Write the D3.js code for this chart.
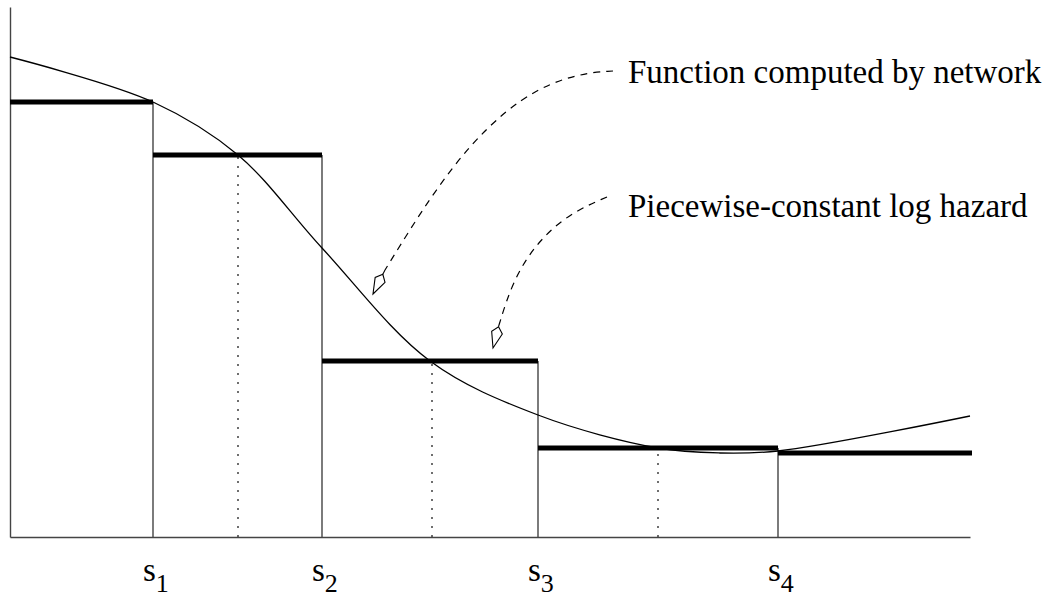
<!DOCTYPE html>
<html>
<head>
<meta charset="utf-8">
<script src="https://cdn.jsdelivr.net/npm/d3@7"></script>
<style>
  body { margin: 0; background: #fff; }
  svg { display: block; font-family: "Liberation Serif", "Times New Roman", serif; }
</style>
</head>
<body>
<div id="chart"></div>
<script>
// interval boundaries (s0 .. s5) and the constant log hazard in each interval
const breaks = [0, 14.3, 31.2, 52.8, 76.8, 96.2];
const levels = [43.5, 38.2, 17.6, 8.9, 8.4];
// where the network curve crosses each step (dotted lines)
const crossings = [22.8, 42.2, 64.8];
const tickLabels = ["1", "2", "3", "4"];

// smooth function computed by the network
const curveX = [0, 14.3, 22.8, 31.2, 42.0, 52.8, 64.8, 71, 76.8, 96];
const curveY = [48.0, 43.5, 38.2, 28.9, 17.6, 12.2, 8.9, 8.4, 8.6, 12.1];

// annotation labels and their dashed leaders
const notes = ["Function computed by network", "Piecewise-constant log hazard"];
const noteX = [61.8, 61.8];
const noteY = [45.4, 32.0];
const leaderX = [[60.3, 57.0, 51.3, 44.3, 37.5], [59.7, 56.0, 52.7, 50.3, 48.9]];
const leaderY = [[46.6, 46.4, 44.4, 37.7, 26.7], [34.0, 32.4, 29.5, 25.7, 21.2]];
const tipX = [36.3, 48.3];
const tipY = [24.3, 18.9];

const width = 1053, height = 599;

const svg = d3.select("#chart").append("svg")
  .attr("width", width)
  .attr("height", height)
  .attr("viewBox", [0, 0, width, height]);

const x = d3.scaleLinear().domain([0, 96]).range([10, 970]);
const y = d3.scaleLinear().domain([0, 53]).range([537, 7]);

// axes: plain lines, no ticks
const xAxis = g => g
  .attr("transform", `translate(0, ${y(0)})`)
  .call(d3.axisBottom(x).ticks(0).tickSizeOuter(0))
  .call(g => g.select(".domain").attr("stroke", "#444").attr("stroke-width", 1.4));
const yAxis = g => g
  .attr("transform", `translate(${x(0)}, 0)`)
  .call(d3.axisLeft(y).ticks(0).tickSizeOuter(0))
  .call(g => g.select(".domain").attr("stroke", "#444").attr("stroke-width", 1.4));

svg.append("g").call(xAxis);
svg.append("g").call(yAxis);

// vertical boundaries at s1..s4
svg.append("g").selectAll("line")
  .data(d3.range(1, 5))
  .join("line")
  .attr("x1", i => x(breaks[i])).attr("x2", i => x(breaks[i]))
  .attr("y1", y(0)).attr("y2", i => y(levels[i - 1]))
  .attr("stroke", "#444").attr("stroke-width", 1.4);

// dotted lines under the crossings
svg.append("g").selectAll("line")
  .data(crossings)
  .join("line")
  .attr("x1", d => x(d)).attr("x2", d => x(d))
  .attr("y1", y(0)).attr("y2", (d, i) => y(levels[i + 1]))
  .attr("stroke", "#222").attr("stroke-width", 1.3)
  .attr("stroke-dasharray", "2,7");

// the smooth curve
const line = d3.line()
  .x(i => x(curveX[i]))
  .y(i => y(curveY[i]))
  .curve(d3.curveCatmullRom.alpha(0.5));
svg.append("path")
  .attr("d", line(d3.range(curveX.length)))
  .attr("fill", "none").attr("stroke", "#000").attr("stroke-width", 1.3);

// thick steps
svg.append("g").selectAll("line")
  .data(levels)
  .join("line")
  .attr("x1", (d, i) => x(breaks[i])).attr("x2", (d, i) => x(breaks[i + 1]))
  .attr("y1", d => y(d)).attr("y2", d => y(d))
  .attr("stroke", "#000").attr("stroke-width", 5);

// x labels s_1 .. s_4
const lab = svg.append("g").selectAll("text")
  .data(tickLabels)
  .join("text")
  .attr("x", (d, i) => x(breaks[i + 1]) - 10)
  .attr("y", 581)
  .attr("font-size", 33);
lab.append("tspan").text("s");
lab.append("tspan").attr("dy", 11).attr("font-size", 26).text(d => d);

// annotation leaders
const leader = d3.line()
  .x(p => x(p[0])).y(p => y(p[1]))
  .curve(d3.curveBasis);
notes.forEach((t, k) => {
  const pts = leaderX[k].map((v, j) => [v, leaderY[k][j]]);
  svg.append("path")
    .attr("d", leader(pts))
    .attr("fill", "none").attr("stroke", "#000").attr("stroke-width", 1.2)
    .attr("stroke-dasharray", "7,6");

  // kite-shaped open arrowhead
  const end = pts[pts.length - 1];
  const bx = x(end[0]), by = y(end[1]);
  const tx = x(tipX[k]), ty = y(tipY[k]);
  const L = Math.hypot(bx - tx, by - ty);
  const ux = (bx - tx) / L, uy = (by - ty) / L;
  const nx = -uy, ny = ux;
  const len = 22, w = 5.5;
  const head = [
    [tx, ty],
    [tx + 0.72 * len * ux + w * nx, ty + 0.72 * len * uy + w * ny],
    [tx + len * ux, ty + len * uy],
    [tx + 0.72 * len * ux - w * nx, ty + 0.72 * len * uy - w * ny]
  ];
  svg.append("path")
    .attr("d", "M" + head.join("L") + "Z")
    .attr("fill", "#fff").attr("stroke", "#000").attr("stroke-width", 1.1);
  svg.append("line")
    .attr("x1", tx + len * ux).attr("y1", ty + len * uy)
    .attr("x2", bx).attr("y2", by)
    .attr("stroke", "#000").attr("stroke-width", 1.1);

  svg.append("text")
    .attr("x", x(noteX[k])).attr("y", y(noteY[k]))
    .attr("font-size", 33)
    .text(t);
});
</script>
</body>
</html>
